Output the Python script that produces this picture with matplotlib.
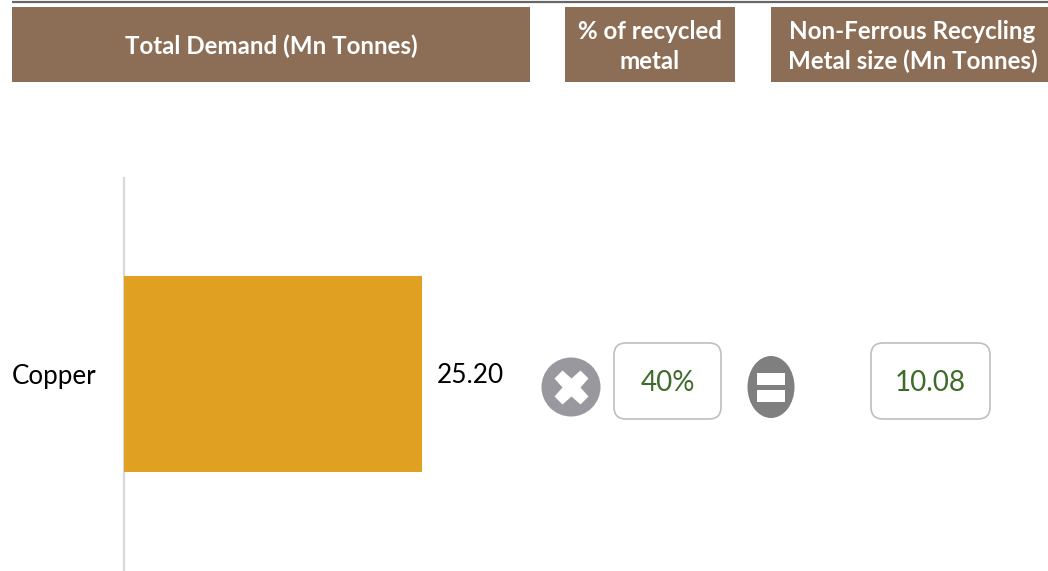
import matplotlib
matplotlib.use("Agg")
import matplotlib.pyplot as plt
from matplotlib.patches import Rectangle, FancyBboxPatch, Ellipse
from matplotlib.transforms import ScaledTranslation

plt.rcParams['font.family'] = ['Lato', 'DejaVu Sans']

W, H = 1048, 571

metals = ["Copper"]
demand = [25.20]
recycled_share = ["40%"]
recycled_size = ["10.08"]
headers = ["Total Demand (Mn Tonnes)", "% of recycled\nmetal", "Non-Ferrous Recycling\nMetal size (Mn Tonnes)"]

BROWN = "#8c6e56"
GOLD = "#e0a022"
GREEN = "#3f6b2a"

fig = plt.figure(figsize=(W / 100, H / 100), dpi=100)

# overlay in pixel coordinates for the header boxes and icons
pix = fig.add_axes([0, 0, 1, 1])
pix.set_xlim(0, W)
pix.set_ylim(H, 0)
pix.axis("off")

pix.plot([12, W], [1.5, 1.5], color="#666666", lw=1.6, solid_capstyle="butt")

header_boxes = [(12, 530), (565, 735), (771, 1048)]
for (x0, x1), label in zip(header_boxes, headers):
    pix.add_patch(Rectangle((x0, 7), x1 - x0, 75, facecolor=BROWN, edgecolor="none"))
    pix.text((x0 + x1) / 2 + (3 if x0 > 700 else 0), 46.5, label, color="white", fontsize=17.4,
             fontweight="bold", ha="center", va="center", linespacing=1.32)

# bar chart
ax = fig.add_axes([124 / W, 1 - 570 / H, 400 / W, 392 / H])
ax.barh(metals, demand, height=0.5, color=GOLD, zorder=3)
ax.set_xlim(0, 400 / (298 / demand[0]))
ax.set_ylim(-0.5, 0.5)
ax.patch.set_alpha(0)
for side in ["top", "right", "bottom"]:
    ax.spines[side].set_visible(False)
ax.spines["left"].set_color("#d9d9d9")
ax.spines["left"].set_linewidth(1.6)
ax.xaxis.set_visible(False)
ax.tick_params(axis="y", length=0, pad=20, labelsize=18.7)
ax.set_yticks([0], metals)
ax.text(demand[0], 0, f"{demand[0]:.2f}", va="center", ha="left", fontsize=18.9, color="black",
        transform=ax.transData + ScaledTranslation(15 / 100, -1.5 / 100, fig.dpi_scale_trans))

# multiply sign
pix.add_patch(Ellipse((571, 387), 59, 59, facecolor="#98989e", edgecolor="none"))
pix.plot([571], [387], marker="X", markersize=25, color="white", markeredgecolor="none")

# equals sign
pix.add_patch(Ellipse((771, 387), 47, 62, facecolor="#7f7f7f", edgecolor="none"))
pix.add_patch(Rectangle((757, 373), 28, 12, facecolor="white", edgecolor="none"))
pix.add_patch(Rectangle((757, 390), 28, 12, facecolor="white", edgecolor="none"))

# value boxes
value_boxes = [(614, 721, recycled_share[0]), (871, 990, recycled_size[0])]
for x0, x1, label in value_boxes:
    pix.add_patch(FancyBboxPatch((x0 + 12, 343 + 12), x1 - x0 - 24, 76 - 24,
                                 boxstyle="round,pad=12,rounding_size=12",
                                 facecolor="white", edgecolor="#bfbfbf", lw=1.2))
    pix.text((x0 + x1) / 2, 383, label, color=GREEN, fontsize=20, ha="center", va="center")

fig.savefig("out.png", dpi=100)
